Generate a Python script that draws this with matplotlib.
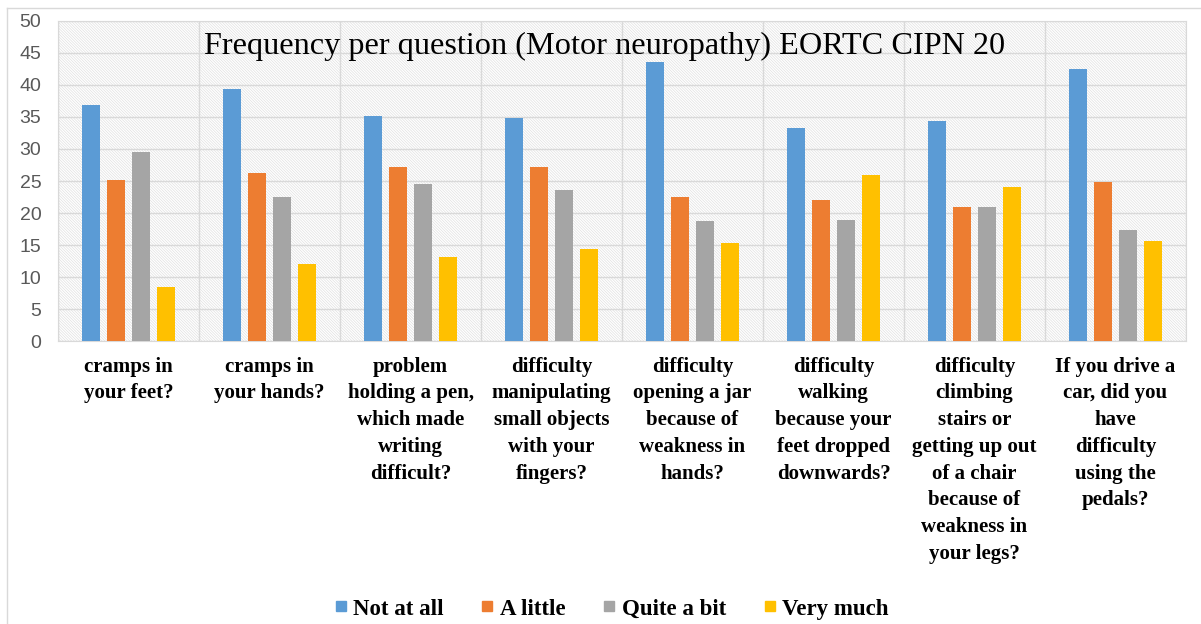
import matplotlib.pyplot as plt
import numpy as np
from matplotlib.patches import Rectangle
from matplotlib.lines import Line2D

categories = [
    "cramps in\nyour feet?",
    "cramps in\nyour hands?",
    "problem\nholding a pen,\nwhich made\nwriting\ndifficult?",
    "difficulty\nmanipulating\nsmall objects\nwith your\nfingers?",
    "difficulty\nopening a jar\nbecause of\nweakness in\nhands?",
    "difficulty\nwalking\nbecause your\nfeet dropped\ndownwards?",
    "difficulty\nclimbing\nstairs or\ngetting up out\nof a chair\nbecause of\nweakness in\nyour legs?",
    "If you drive a\ncar, did you\nhave\ndifficulty\nusing the\npedals?",
]
series_names = ["Not at all", "A little", "Quite a bit", "Very much"]
not_at_all = [36.8, 39.3, 35.2, 34.8, 43.6, 33.2, 34.4, 42.4]
a_little = [25.2, 26.3, 27.2, 27.2, 22.5, 22.1, 20.9, 24.8]
quite_a_bit = [29.6, 22.5, 24.6, 23.6, 18.8, 18.9, 20.9, 17.3]
very_much = [8.4, 12.1, 13.2, 14.4, 15.3, 26.0, 24.1, 15.7]
colors = ["#5B9BD5", "#ED7D31", "#A5A5A5", "#FFC000"]

plt.rcParams['hatch.linewidth'] = 0.5
plt.rcParams['hatch.color'] = '#e0e0e0'

fig = plt.figure(figsize=(12.01, 6.24), dpi=100)
ax = fig.add_axes([58 / 1201, 1 - 341.3 / 624, (1186 - 58) / 1201, (341.3 - 20.7) / 624])

# hatched plot area background
ax.add_patch(Rectangle((0, 0), 1, 1, transform=ax.transAxes, facecolor='white',
                       hatch='\\' * 12, edgecolor='#e0e0e0', linewidth=0, zorder=0))

x = np.arange(len(categories))
step = 0.177
width = 0.124
data = [not_at_all, a_little, quite_a_bit, very_much]
for i, (vals, name, c) in enumerate(zip(data, series_names, colors)):
    ax.bar(x + (i - 1.5) * step, vals, width, color=c, label=name, zorder=3)

ax.set_xlim(-0.5, len(categories) - 0.5)
ax.set_ylim(0, 50)
ax.set_yticks(range(0, 51, 5))
ax.set_xticks(x)
ax.set_xticklabels(categories, fontfamily='Liberation Serif', fontweight='bold',
                   fontsize=15, linespacing=1.45, multialignment='center')
ax.set_xticks(np.arange(-0.5, len(categories), 1), minor=True)
ax.tick_params(axis='x', which='both', length=0, pad=11)
ax.tick_params(axis='y', length=0, pad=12, labelsize=14, labelcolor='#595959')
for lab in ax.get_yticklabels():
    lab.set_fontfamily('Liberation Sans')

ax.grid(axis='y', color='#d9d9d9', linewidth=1, zorder=1)
ax.grid(axis='x', which='minor', color='#d9d9d9', linewidth=1, zorder=1)
ax.grid(axis='x', which='major', visible=False)
for s in ax.spines.values():
    s.set_color('#d9d9d9')
    s.set_zorder(1)

ax.text((605 - 58) / 1128, (341.3 - 46) / 320.6,
        "Frequency per question (Motor neuropathy) EORTC CIPN 20",
        transform=ax.transAxes, ha='center', va='center',
        fontfamily='Liberation Serif', fontsize=23.2, zorder=4)

handles = [Line2D([], [], marker='s', linestyle='none', markersize=7,
                  markerfacecolor=c, markeredgecolor=c) for c in colors]
fig.legend(handles, series_names, loc='center', bbox_to_anchor=(609 / 1201, 1 - 609 / 624),
           ncol=4, frameon=False, handletextpad=0.05, columnspacing=1.4,
           handlelength=1.0,
           prop={'family': 'Liberation Serif', 'weight': 'bold', 'size': 16.5})

# outer chart border
fig.add_artist(Line2D([7 / 1201, 7 / 1201], [0, 1 - 8 / 624], transform=fig.transFigure,
                      color='#d9d9d9', linewidth=1))
fig.add_artist(Line2D([7 / 1201, 1], [1 - 8 / 624, 1 - 8 / 624], transform=fig.transFigure,
                      color='#d9d9d9', linewidth=1))

fig.savefig("out.png", dpi=100)
